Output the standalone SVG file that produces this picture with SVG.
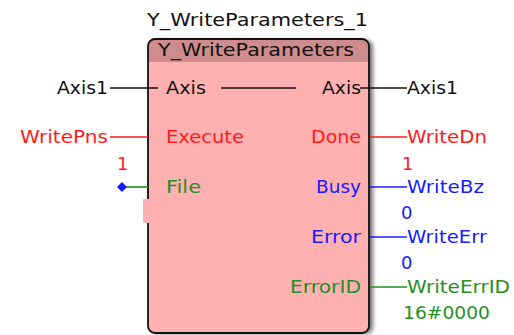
<svg xmlns="http://www.w3.org/2000/svg" width="514" height="335" viewBox="0 0 514 335">
  <style>
    text { font-family: "DejaVu Sans", "Liberation Sans", sans-serif; font-size: 18px; }
    .k { fill: #111; }
    .r { fill: #ff1a1a; }
    .b { fill: #1a1aff; }
    .g { fill: #248f24; }
    .lk { stroke: #111; stroke-width: 1.6; }
    .lr { stroke: #ff1a1a; stroke-width: 1.6; }
    .lb { stroke: #1a1aff; stroke-width: 1.6; }
    .lg { stroke: #248f24; stroke-width: 1.6; }
  </style>
  <defs>
    <filter id="shadow" x="-10%" y="-10%" width="130%" height="130%">
      <feGaussianBlur in="SourceAlpha" stdDeviation="2.2"/>
      <feOffset dx="4" dy="1" result="s"/>
      <feComponentTransfer><feFuncA type="linear" slope="0.55"/></feComponentTransfer>
      <feMerge><feMergeNode/><feMergeNode in="SourceGraphic"/></feMerge>
    </filter>
    <clipPath id="boxclip"><rect x="148" y="39" width="221" height="294" rx="7"/></clipPath>
  </defs>

  <rect width="514" height="335" fill="#fff"/>

  <!-- instance name -->
  <text class="k" x="147" y="26" textLength="221" lengthAdjust="spacingAndGlyphs">Y_WriteParameters_1</text>

  <!-- function block -->
  <g id="block">
    <rect x="148" y="39" width="221" height="294" rx="7" fill="#ffb0b0" filter="url(#shadow)"/>
    <rect x="148" y="39" width="221" height="23" fill="#cf8c8c" clip-path="url(#boxclip)"/>
    <rect x="148" y="39" width="221" height="294" rx="7" fill="none" stroke="#111" stroke-width="1.8"/>
    <!-- open notch on the left edge below File -->
    <rect x="143" y="199" width="7" height="24" fill="#ffb0b0"/>
    <text class="k" x="158" y="56" textLength="196" lengthAdjust="spacingAndGlyphs">Y_WriteParameters</text>
    <!-- pin names -->
    <text class="k" x="166" y="94" textLength="40" lengthAdjust="spacingAndGlyphs">Axis</text>
    <text class="r" x="166" y="143" textLength="78" lengthAdjust="spacingAndGlyphs">Execute</text>
    <text class="g" x="166" y="193" textLength="35" lengthAdjust="spacingAndGlyphs">File</text>
    <text class="k" x="322" y="94" textLength="39" lengthAdjust="spacingAndGlyphs">Axis</text>
    <text class="r" x="311" y="143" textLength="50" lengthAdjust="spacingAndGlyphs">Done</text>
    <text class="b" x="316" y="193" textLength="45" lengthAdjust="spacingAndGlyphs">Busy</text>
    <text class="b" x="311" y="243" textLength="50" lengthAdjust="spacingAndGlyphs">Error</text>
    <text class="g" x="290" y="293" textLength="71" lengthAdjust="spacingAndGlyphs">ErrorID</text>
  </g>

  <!-- connectors -->
  <g id="connectors">
    <line class="lk" x1="110" y1="88" x2="158" y2="88"/>
    <line class="lk" x1="221" y1="88" x2="296" y2="88"/>
    <line class="lk" x1="360" y1="88" x2="407" y2="88"/>
    <line class="lr" x1="110" y1="137" x2="148" y2="137"/>
    <line class="lg" x1="122" y1="187" x2="148" y2="187"/>
    <polygon points="122,182 127,187 122,192 117,187" fill="#1a1aff"/>
    <line class="lr" x1="370" y1="137" x2="407" y2="137"/>
    <line class="lb" x1="370" y1="187" x2="407" y2="187"/>
    <line class="lb" x1="370" y1="237" x2="407" y2="237"/>
    <line class="lg" x1="370" y1="287" x2="407" y2="287"/>
  </g>

  <!-- input variables -->
  <g id="inputs">
    <text class="k" x="57" y="94" textLength="51" lengthAdjust="spacingAndGlyphs">Axis1</text>
    <text class="r" x="20" y="143" textLength="88" lengthAdjust="spacingAndGlyphs">WritePns</text>
    <text class="r" x="117" y="170">1</text>
  </g>

  <!-- output variables -->
  <g id="outputs">
    <text class="k" x="407" y="94" textLength="51" lengthAdjust="spacingAndGlyphs">Axis1</text>
    <text class="r" x="407" y="143" textLength="80" lengthAdjust="spacingAndGlyphs">WriteDn</text>
    <text class="r" x="402" y="170">1</text>
    <text class="b" x="407" y="193" textLength="77" lengthAdjust="spacingAndGlyphs">WriteBz</text>
    <text class="b" x="401" y="219">0</text>
    <text class="b" x="407" y="243" textLength="80" lengthAdjust="spacingAndGlyphs">WriteErr</text>
    <text class="b" x="401" y="269">0</text>
    <text class="g" x="407" y="293" textLength="103" lengthAdjust="spacingAndGlyphs">WriteErrID</text>
    <text class="g" x="403" y="319" textLength="87" lengthAdjust="spacingAndGlyphs">16#0000</text>
  </g>
</svg>
